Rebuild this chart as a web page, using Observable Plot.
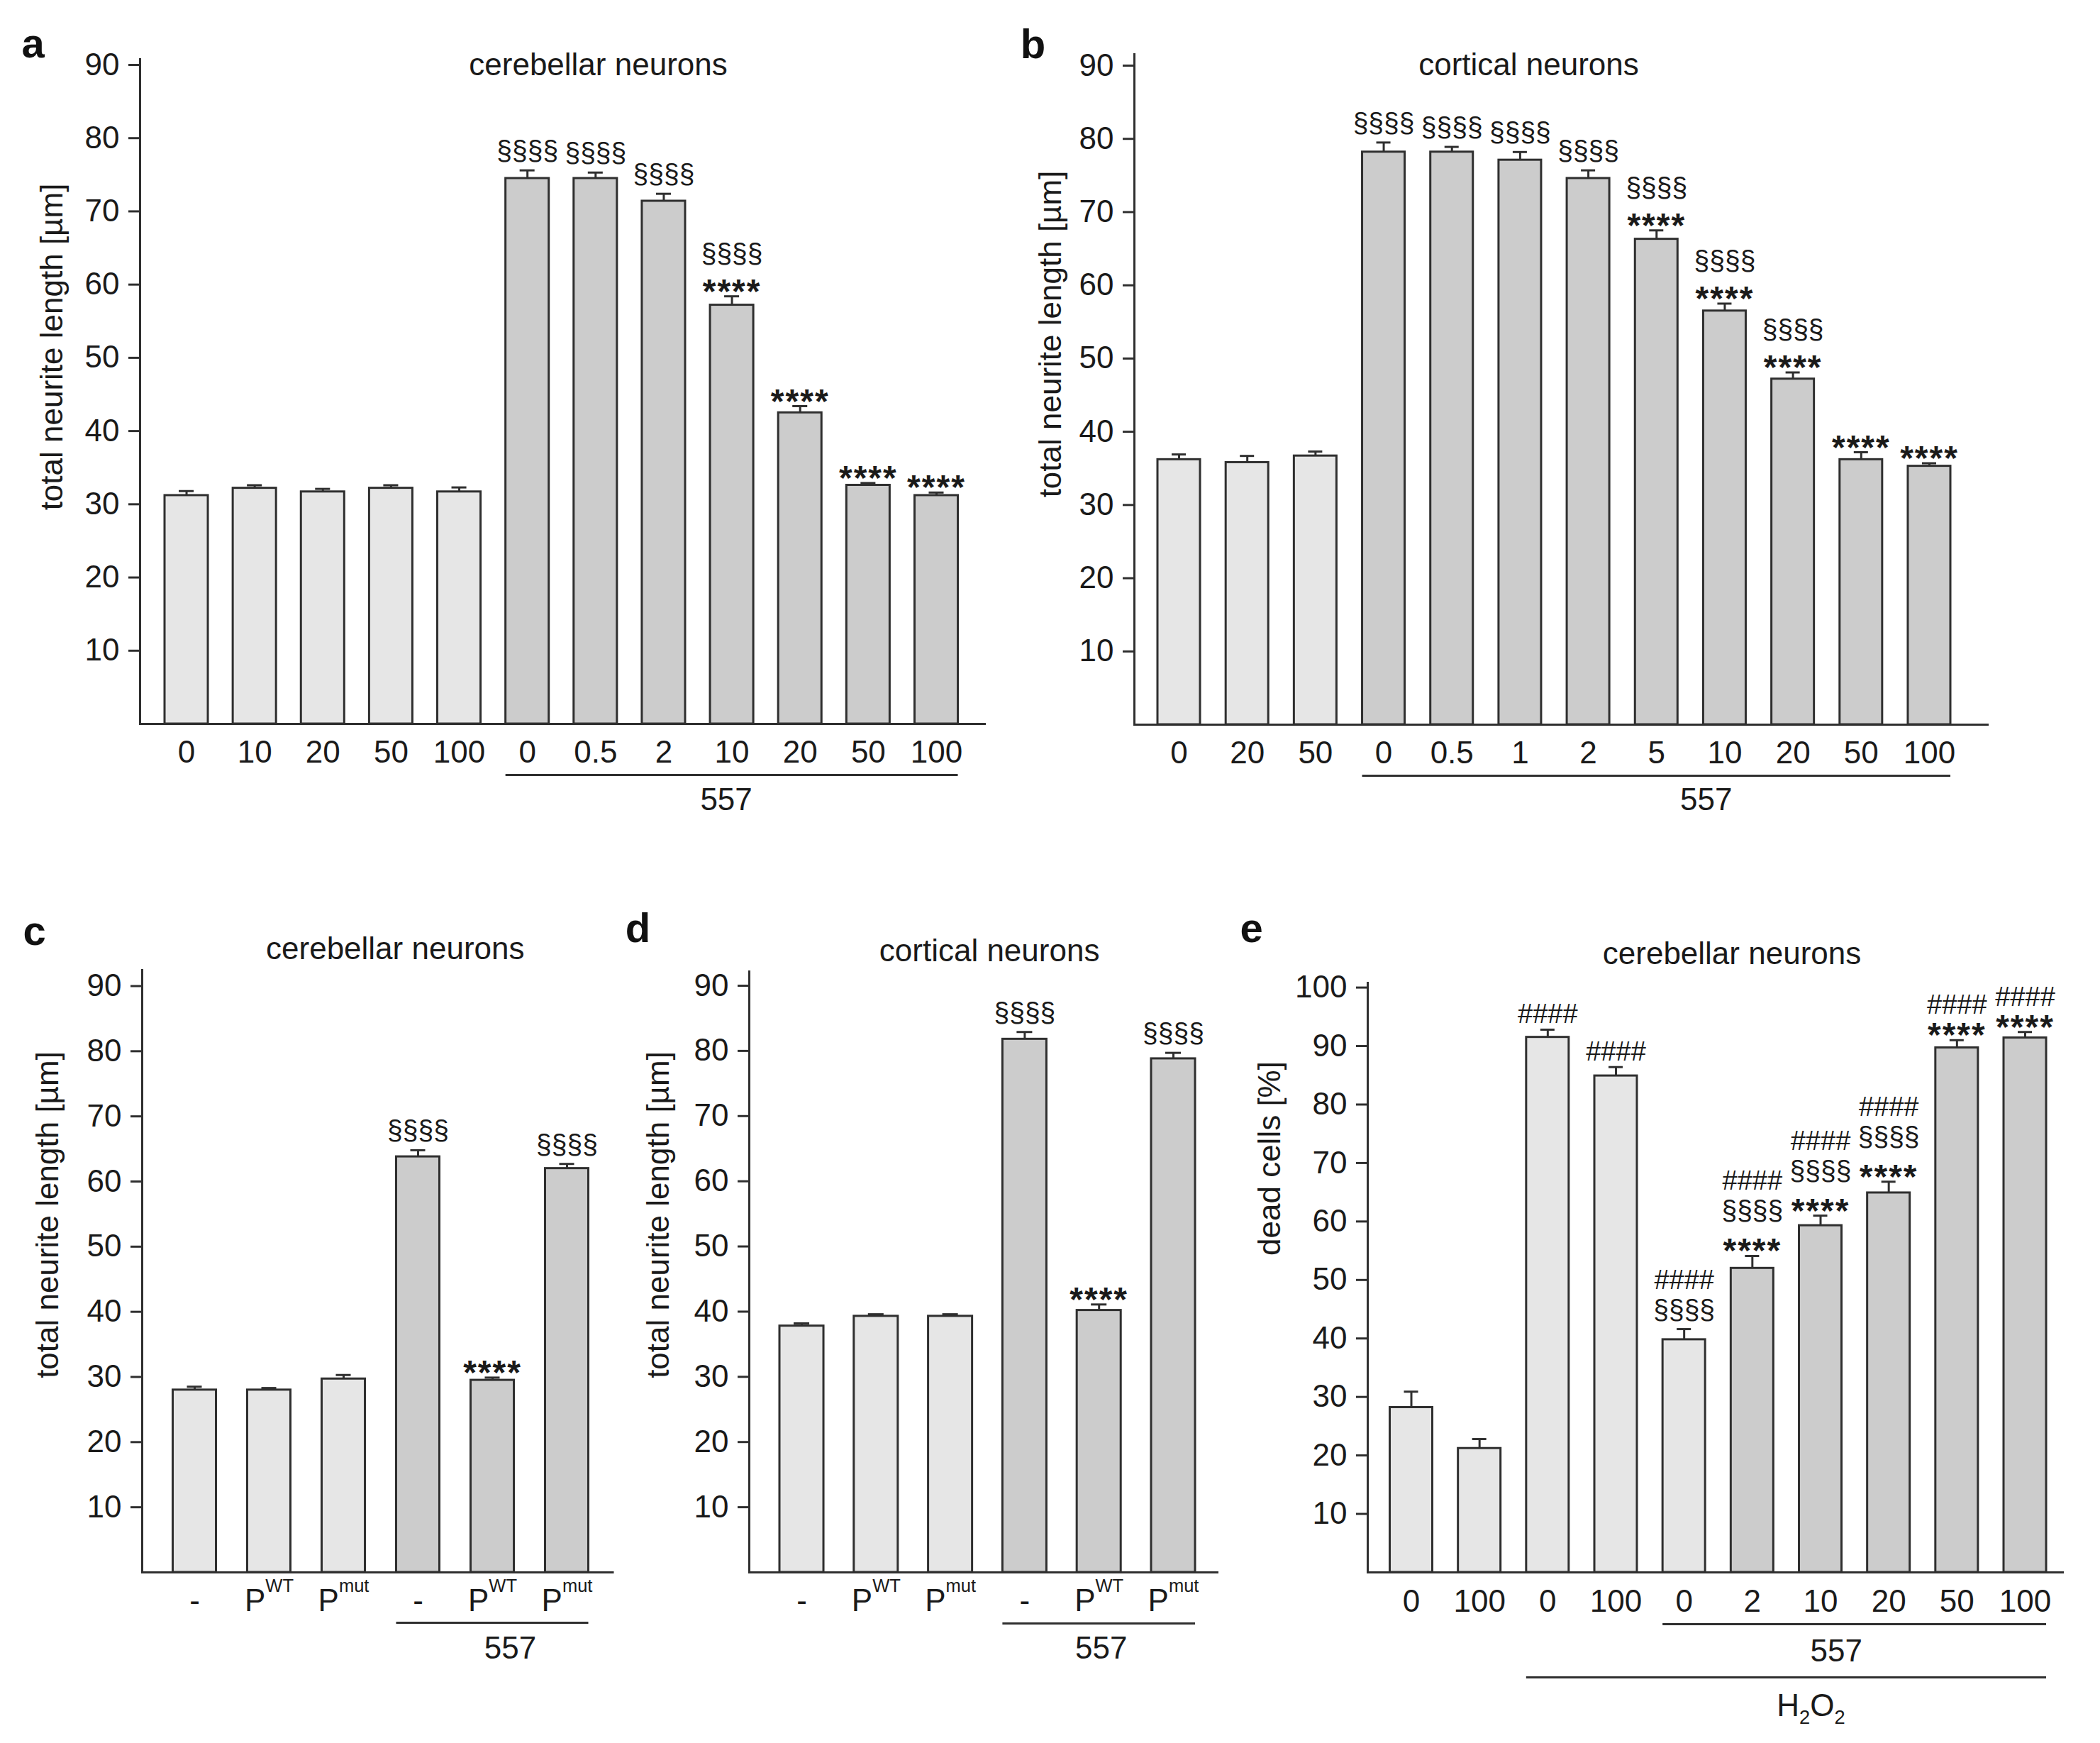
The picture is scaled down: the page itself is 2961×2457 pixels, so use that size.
<!DOCTYPE html>
<html>
<head>
<meta charset="utf-8">
<script src="https://cdn.jsdelivr.net/npm/d3@7"></script>
<script src="https://cdn.jsdelivr.net/npm/@observablehq/plot@0.6"></script>
<style>
  html, body { margin: 0; padding: 0; background: #fff; }
  #figure { position: relative; width: 2961px; height: 2457px; overflow: hidden; background: #fff; }
  #figure svg { position: absolute; left: 0; top: 0; }
</style>
</head>
<body>
<div id="figure"></div>
<script>
// ---------- data ----------
// a: cerebellar neurons, neurite length (µm)
const labelsA  = ["0", "10", "20", "50", "100", "0", "0.5", "2", "10", "20", "50", "100"];
const meanA    = [31.2, 32.2, 31.7, 32.2, 31.7, 74.5, 74.5, 71.4, 57.2, 42.5, 32.6, 31.2];
const errA     = [0.6, 0.4, 0.4, 0.4, 0.6, 1.1, 0.8, 1.0, 1.2, 0.9, 0.3, 0.4];
const treatedA = [0, 0, 0, 0, 0, 1, 1, 1, 1, 1, 1, 1];
const sigA     = ["", "", "", "", "", "§§§§", "§§§§", "§§§§", "§§§§\n****", "****", "****", "****"];
const groupsA  = [{label: "557", from: 5, to: 11}];

// b: cortical neurons, neurite length (µm)
const labelsB  = ["0", "20", "50", "0", "0.5", "1", "2", "5", "10", "20", "50", "100"];
const meanB    = [36.2, 35.8, 36.7, 78.2, 78.2, 77.1, 74.6, 66.3, 56.5, 47.2, 36.2, 35.3];
const errB     = [0.7, 0.9, 0.6, 1.3, 0.7, 1.1, 1.1, 1.2, 1.0, 0.9, 1.0, 0.4];
const treatedB = [0, 0, 0, 1, 1, 1, 1, 1, 1, 1, 1, 1];
const sigB     = ["", "", "", "§§§§", "§§§§", "§§§§", "§§§§", "§§§§\n****", "§§§§\n****", "§§§§\n****", "****", "****"];
const groupsB  = [{label: "557", from: 3, to: 11}];

// c: cerebellar neurons, peptides
const labelsC  = ["-", "P^{WT}", "P^{mut}", "-", "P^{WT}", "P^{mut}"];
const meanC    = [28.0, 28.0, 29.7, 63.8, 29.5, 62.0];
const errC     = [0.5, 0.3, 0.6, 1.0, 0.4, 0.7];
const treatedC = [0, 0, 0, 1, 1, 1];
const sigC     = ["", "", "", "§§§§", "****", "§§§§"];
const groupsC  = [{label: "557", from: 3, to: 5}];

// d: cortical neurons, peptides
const labelsD  = ["-", "P^{WT}", "P^{mut}", "-", "P^{WT}", "P^{mut}"];
const meanD    = [37.8, 39.3, 39.3, 81.8, 40.2, 78.8];
const errD     = [0.4, 0.3, 0.3, 1.1, 0.9, 0.9];
const treatedD = [0, 0, 0, 1, 1, 1];
const sigD     = ["", "", "", "§§§§", "****", "§§§§"];
const groupsD  = [{label: "557", from: 3, to: 5}];

// e: cerebellar neurons, dead cells (%)
const labelsE  = ["0", "100", "0", "100", "0", "2", "10", "20", "50", "100"];
const meanE    = [28.2, 21.2, 91.5, 84.9, 39.8, 52.0, 59.3, 64.9, 89.7, 91.4];
const errE     = [2.7, 1.6, 1.3, 1.5, 1.8, 2.1, 1.7, 1.9, 1.3, 1.0];
const treatedE = [0, 0, 0, 0, 0, 1, 1, 1, 1, 1];
const sigE     = ["", "", "####", "####", "####\n§§§§", "####\n§§§§\n****", "####\n§§§§\n****", "####\n§§§§\n****", "####\n****", "####\n****"];
const groupsE  = [{label: "557", from: 4, to: 9}, {label: "H_{2}O_{2}", from: 2, to: 9}];

// ---------- styling ----------
const W = 2961, H = 2457;
const FONT = "'Liberation Sans', Arial, Helvetica, sans-serif";
const INK = "#1a1a1a", LINE = "#2f2f2f", LIGHT = "#e6e6e6", DARK = "#cccccc";
const FS = 44;
// glyph size, weight and vertical centre (fraction of em above baseline) of the significance marks
const GLYPH = {
  "*": {size: 48, weight: "bold", center: 0.52},
  "§": {size: 39, weight: "normal", center: 0.266},
  "#": {size: 38, weight: "normal", center: 0.35}
};
// distance from the error-bar cap to the centre of the lowest mark
const FIRST = {"*": 16, "§": 25, "#": 22};

const panels = [
  {
    labels: labelsA, mean: meanA, err: errA, treated: treatedA, sig: sigA, groups: groupsA,
    title: "cerebellar neurons", letter: "a", ylabel: "total neurite length [µm]",
    yMax: 90, frame: {left: 197, right: 1390, top: 83, bottom: 1020}, insetTop: 8,
    band: {insetLeft: 35, insetRight: 39.5, paddingInner: 0.365}, cap: 20,
    titleOff: [49.5, 22.5], ylabelOff: [-124, -63], letterOff: [-151, -3],
    groupStyle: [{lineDy: 72, labelDx: -8, labelDy: 121}],
    spacing: 42, tickPad: 23
  },
  {
    labels: labelsB, mean: meanB, err: errB, treated: treatedB, sig: sigB, groups: groupsB,
    title: "cortical neurons", letter: "b", ylabel: "total neurite length [µm]",
    yMax: 90, frame: {left: 1599, right: 2804, top: 76, bottom: 1021}, insetTop: 16,
    band: {insetLeft: 33, insetRight: 54, paddingInner: 0.376}, cap: 20,
    titleOff: [-46.5, 29.5], ylabelOff: [-118, -78], letterOff: [-143, 5],
    groupStyle: [{lineDy: 72, labelDx: 70, labelDy: 120}],
    spacing: 42, tickPad: 23
  },
  {
    labels: labelsC, mean: meanC, err: errC, treated: treatedC, sig: sigC, groups: groupsC,
    title: "cerebellar neurons", letter: "c", ylabel: "total neurite length [µm]",
    yMax: 90, frame: {left: 200, right: 865.5, top: 1367, bottom: 2216}, insetTop: 22.5,
    band: {insetLeft: 43.5, insetRight: 36, paddingInner: 0.419}, cap: 20,
    titleOff: [24, -16], ylabelOff: [-133, -79.5], letterOff: [-152, -36],
    groupStyle: [{lineDy: 71, labelDx: 25, labelDy: 121}],
    spacing: 42, tickPad: 23
  },
  {
    labels: labelsD, mean: meanD, err: errD, treated: treatedD, sig: sigD, groups: groupsD,
    title: "cortical neurons", letter: "d", ylabel: "total neurite length [µm]",
    yMax: 90, frame: {left: 1056, right: 1718, top: 1369, bottom: 2216}, insetTop: 20,
    band: {insetLeft: 43, insetRight: 33, paddingInner: 0.408}, cap: 20,
    titleOff: [7.6, -14.5], ylabelOff: [-128, -80.5], letterOff: [-157, -42],
    groupStyle: [{lineDy: 72, labelDx: 3, labelDy: 121}],
    spacing: 42, tickPad: 23
  },
  {
    labels: labelsE, mean: meanE, err: errE, treated: treatedE, sig: sigE, groups: groupsE,
    title: "cerebellar neurons", letter: "e", ylabel: "dead cells [%]",
    yMax: 100, frame: {left: 1928, right: 2910, top: 1385, bottom: 2216}, insetTop: 6.6,
    band: {insetLeft: 31.5, insetRight: 25, paddingInner: 0.376}, cap: 20,
    titleOff: [22.5, -26.7], ylabelOff: [-138, -168], letterOff: [-164, -58],
    groupStyle: [{lineDy: 73, labelDx: -74, labelDy: 125}, {lineDy: 148, labelDx: -13.5, labelDy: 202}],
    spacing: 45, tight: [8, 9], tightSpacing: 34, tickPad: 24
  }
];

// Turn "^{..}" / "_{..}" markup into raised / lowered tspans; space out asterisk runs.
function richText(svg) {
  svg.querySelectorAll("text").forEach((t) => {
    const s = t.textContent;
    if (/^\*+$/.test(s)) { t.setAttribute("letter-spacing", "2"); return; }
    if (t.childElementCount > 0 || !/[_^]\{/.test(s)) return;
    const re = /([_^])\{([^}]*)\}|([^_^]+)/g;
    let m, shift = 0;
    t.textContent = "";
    while ((m = re.exec(s))) {
      const span = document.createElementNS("http://www.w3.org/2000/svg", "tspan");
      let target = 0;
      if (m[1] === "^") { target = -0.6 * FS; span.setAttribute("font-size", 0.58 * FS); span.textContent = m[2]; }
      else if (m[1] === "_") { target = 0.27 * FS; span.setAttribute("font-size", 0.62 * FS); span.textContent = m[2]; }
      else { span.textContent = m[3]; }
      if (target - shift) span.setAttribute("dy", target - shift);
      shift = target;
      t.appendChild(span);
    }
  });
}

function drawPanel(p) {
  const n = p.labels.length;
  const rows = d3.range(n).map((i) => ({i, mean: p.mean[i], top: p.mean[i] + p.err[i], treated: p.treated[i]}));

  // significance marks, stacked upward from each error-bar cap
  const ann = [];
  rows.forEach((r) => {
    const s = p.sig[r.i];
    if (!s) return;
    const lines = s.split("\n").reverse();
    const gap = p.tight && p.tight.includes(r.i) ? p.tightSpacing : p.spacing;
    const base = FIRST[lines[0][0]];
    lines.forEach((txt, k) => {
      const g = GLYPH[txt[0]];
      ann.push({i: r.i, top: r.top, text: txt, sym: txt[0], dy: Math.round(g.center * g.size - (base + k * gap))});
    });
  });
  const annMarks = Array.from(d3.group(ann, (d) => d.sym + "|" + d.dy).values(), (list) => {
    const g = GLYPH[list[0].sym];
    return Plot.text(list, {x: "i", y: "top", text: "text", fontSize: g.size, fontWeight: g.weight, dy: list[0].dy, lineAnchor: "bottom", fill: INK});
  });

  // bracket lines and labels below the category axis
  const groupMarks = p.groups.flatMap((g, j) => {
    const st = p.groupStyle[j];
    const at = Math.round((g.from + g.to) / 2);
    return [
      Plot.ruleY([g], {x1: "from", x2: "to", y: () => 0, dy: st.lineDy, stroke: LINE, strokeWidth: 3}),
      Plot.text([g], {x: () => at, frameAnchor: "bottom", text: "label", dx: st.labelDx, dy: st.labelDy, textAnchor: "middle", lineAnchor: "bottom", fontSize: FS, fill: INK})
    ];
  });

  const f = p.frame;
  const svg = Plot.plot({
    width: W, height: H,
    marginLeft: f.left, marginRight: W - f.right, marginTop: f.top, marginBottom: H - f.bottom,
    style: {background: "transparent", fontFamily: FONT, color: INK, overflow: "visible", maxWidth: "none"},
    x: {type: "band", domain: d3.range(n), paddingInner: p.band.paddingInner, paddingOuter: 0, insetLeft: p.band.insetLeft, insetRight: p.band.insetRight, round: false},
    y: {domain: [0, p.yMax], insetTop: p.insetTop},
    color: {type: "identity"},
    marks: [
      Plot.barY(rows, {x: "i", y: "mean", fill: (d) => (d.treated ? DARK : LIGHT), stroke: LINE, strokeWidth: 3}),
      Plot.ruleX(rows, {x: "i", y1: "mean", y2: "top", stroke: LINE, strokeWidth: 3}),
      Plot.tickY(rows, {x: "i", y: "top", stroke: LINE, strokeWidth: 3, insetLeft: p.cap, insetRight: p.cap}),
      Plot.ruleY([0], {stroke: LINE, strokeWidth: 3}),
      Plot.frame({anchor: "left", stroke: LINE, strokeWidth: 3}),
      Plot.axisY({ticks: d3.range(10, p.yMax + 1, 10), tickSize: 16, tickPadding: 13, fontSize: FS, stroke: LINE, strokeWidth: 3, label: null}),
      Plot.axisX({tickSize: 0, tickPadding: p.tickPad, fontSize: FS, tickFormat: (i) => p.labels[i], label: null}),
      ...groupMarks,
      ...annMarks,
      Plot.text([p.title], {frameAnchor: "top", dx: p.titleOff[0], dy: p.titleOff[1], textAnchor: "middle", lineAnchor: "bottom", fontSize: FS, fill: INK}),
      Plot.text([p.ylabel], {frameAnchor: "left", rotate: -90, dx: p.ylabelOff[0], dy: p.ylabelOff[1], textAnchor: "middle", lineAnchor: "middle", fontSize: FS, fill: INK}),
      Plot.text([p.letter], {frameAnchor: "top-left", dx: p.letterOff[0], dy: p.letterOff[1], textAnchor: "middle", lineAnchor: "bottom", fontSize: 58, fontWeight: "bold", fill: "#111"})
    ]
  });
  richText(svg);
  return svg;
}

const fig = document.getElementById("figure");
panels.forEach((p) => fig.appendChild(drawPanel(p)));
</script>
</body>
</html>
